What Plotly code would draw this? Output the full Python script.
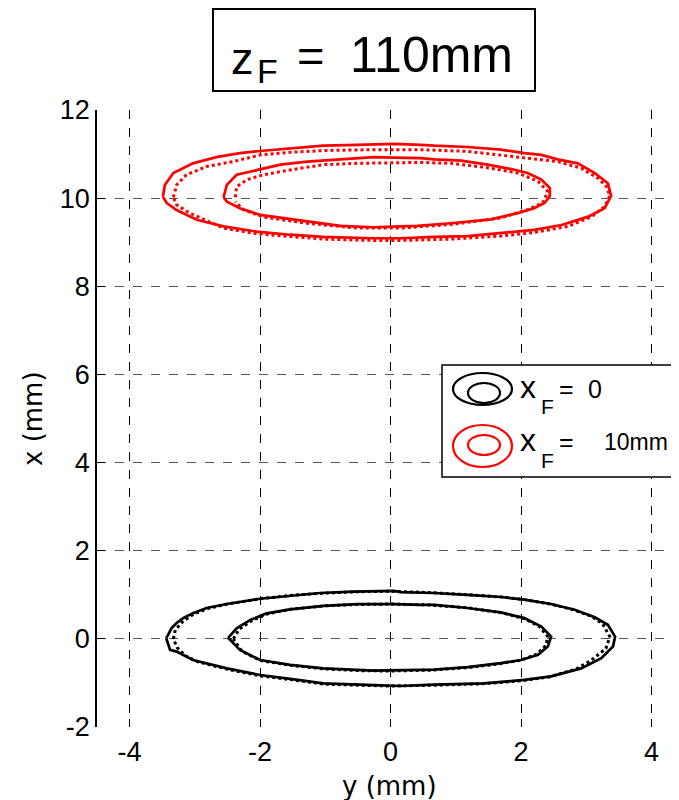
import plotly.graph_objects as go

# ---- data: contour outlines (y in mm, x in mm) ----
blk_outer_solid_y = [-3.44, -3.41, -3.36, -3.28, -3.18, -3.03, -2.82, -2.51, -2.00, -1.54, -1.08, -0.57, 0.05, 0.15, 0.67, 1.18, 1.69, 2.05, 2.46, 2.82, 3.13, 3.33, 3.44, 3.41, 3.23, 2.92, 2.46, 2.05, 1.44, 0.67, 0.15, -0.26, -1.03, -1.54, -2.00, -2.51, -3.03, -3.28, -3.38, -3.44]
blk_outer_solid_x = [0.02, 0.09, 0.24, 0.36, 0.47, 0.58, 0.70, 0.79, 0.91, 0.98, 1.04, 1.07, 1.09, 1.06, 1.04, 1.00, 0.95, 0.89, 0.79, 0.66, 0.49, 0.32, 0.05, -0.17, -0.44, -0.67, -0.85, -0.93, -1.01, -1.04, -1.07, -1.05, -1.01, -0.91, -0.82, -0.67, -0.48, -0.29, -0.25, 0.02]

blk_outer_dot_y = [-3.33, -3.30, -3.18, -3.02, -2.80, -2.50, -2.00, -1.50, -1.00, -0.50, 0.00, 0.60, 1.20, 1.70, 2.05, 2.45, 2.80, 3.08, 3.25, 3.36, 3.30, 3.08, 2.85, 2.45, 2.00, 1.40, 0.70, 0.00, -0.50, -1.00, -1.50, -2.00, -2.50, -2.95, -3.15, -3.27, -3.33]
blk_outer_dot_x = [0.00, 0.20, 0.40, 0.56, 0.69, 0.79, 0.91, 0.99, 1.04, 1.07, 1.08, 1.05, 1.00, 0.95, 0.89, 0.79, 0.66, 0.51, 0.34, 0.05, -0.22, -0.48, -0.68, -0.86, -0.95, -1.02, -1.05, -1.07, -1.05, -1.03, -0.93, -0.84, -0.69, -0.52, -0.38, -0.20, 0.00]

blk_inner_solid_y = [-2.49, -2.36, -2.15, -1.90, -1.54, -1.03, -0.51, 0.05, 0.46, 0.67, 1.18, 1.69, 2.05, 2.31, 2.46, 2.41, 2.26, 2.00, 1.69, 1.18, 0.67, 0.15, -0.26, -1.03, -1.54, -2.00, -2.31, -2.46, -2.49]
blk_inner_solid_x = [0.02, 0.24, 0.43, 0.58, 0.67, 0.75, 0.79, 0.79, 0.77, 0.77, 0.70, 0.60, 0.47, 0.28, 0.05, -0.17, -0.36, -0.48, -0.55, -0.64, -0.70, -0.72, -0.72, -0.67, -0.59, -0.48, -0.25, -0.02, 0.02]

blk_inner_dot_y = [-2.41, -2.32, -2.12, -1.88, -1.54, -1.00, -0.50, 0.00, 0.60, 1.20, 1.70, 2.05, 2.28, 2.41, 2.38, 2.24, 2.00, 1.70, 1.20, 0.60, 0.00, -0.50, -1.03, -1.54, -2.00, -2.28, -2.41]
blk_inner_dot_x = [0.00, 0.22, 0.42, 0.57, 0.67, 0.75, 0.78, 0.79, 0.77, 0.70, 0.59, 0.46, 0.28, 0.05, -0.15, -0.35, -0.48, -0.56, -0.65, -0.71, -0.73, -0.72, -0.68, -0.60, -0.49, -0.28, 0.00]

red_outer_solid_y = [-3.49, -3.46, -3.33, -3.03, -2.67, -2.31, -2.00, -1.54, -1.03, -0.51, -0.20, 0.05, 0.46, 0.67, 1.18, 1.69, 2.05, 2.31, 2.56, 2.87, 3.13, 3.33, 3.38, 3.28, 3.03, 2.62, 2.20, 1.69, 1.18, 0.67, 0.15, -0.26, -1.03, -1.54, -2.05, -2.56, -2.97, -3.28, -3.43, -3.49]
red_outer_solid_x = [10.03, 10.30, 10.57, 10.79, 10.93, 11.02, 11.07, 11.13, 11.19, 11.21, 11.23, 11.23, 11.21, 11.19, 11.16, 11.10, 11.02, 10.98, 10.88, 10.79, 10.57, 10.34, 10.05, 9.77, 9.58, 9.39, 9.28, 9.21, 9.14, 9.12, 9.09, 9.09, 9.12, 9.17, 9.24, 9.36, 9.51, 9.73, 9.89, 10.03]

red_outer_dot_y = [-3.33, -3.28, -3.13, -2.82, -2.41, -2.00, -1.54, -1.03, -0.26, 0.46, 1.18, 1.95, 2.56, 2.92, 3.18, 3.31, 3.36, 3.28, 3.08, 2.72, 2.20, 1.69, 0.92, 0.15, -0.26, -1.03, -1.54, -2.05, -2.56, -3.08, -3.28, -3.33]
red_outer_dot_x = [10.02, 10.30, 10.53, 10.72, 10.83, 10.98, 11.04, 11.08, 11.10, 11.10, 11.06, 10.94, 10.83, 10.68, 10.45, 10.26, 10.05, 9.81, 9.58, 9.36, 9.22, 9.14, 9.07, 9.04, 9.04, 9.07, 9.13, 9.19, 9.32, 9.66, 9.85, 10.02]

red_inner_solid_y = [-2.56, -2.51, -2.36, -2.15, -2.00, -1.69, -1.28, -0.77, -0.26, 0.05, 0.46, 0.67, 1.08, 1.49, 1.85, 2.10, 2.31, 2.44, 2.44, 2.36, 2.20, 1.95, 1.54, 0.92, 0.41, 0.15, -0.26, -0.77, -1.28, -2.00, -2.31, -2.51, -2.56]
red_inner_solid_x = [10.02, 10.30, 10.53, 10.60, 10.64, 10.76, 10.83, 10.88, 10.93, 10.92, 10.91, 10.88, 10.85, 10.76, 10.66, 10.57, 10.42, 10.23, 10.05, 9.89, 9.77, 9.66, 9.52, 9.43, 9.37, 9.36, 9.34, 9.37, 9.47, 9.62, 9.77, 9.92, 10.02]

red_inner_dot_y = [-2.38, -2.36, -2.20, -1.95, -1.54, -1.03, -0.51, 0.46, 0.92, 1.44, 1.95, 2.26, 2.41, 2.33, 2.10, 1.69, 0.92, 0.15, -0.51, -1.28, -1.95, -2.26, -2.38]
red_inner_dot_x = [10.02, 10.26, 10.42, 10.53, 10.64, 10.76, 10.79, 10.81, 10.79, 10.70, 10.57, 10.38, 10.15, 9.89, 9.74, 9.55, 9.40, 9.32, 9.32, 9.43, 9.57, 9.74, 9.92]

x_ticks = [-4, -2, 0, 2, 4]
y_ticks = [-2, 0, 2, 4, 6, 8, 10, 12]
title_var, title_sub, title_eq, title_val = "z", "F", "=", "110mm"
legend_var, legend_sub = "x", "F"
legend_vals = ["0", "10mm"]
x_label = "y (mm)"
y_label = "x (mm)"

fig = go.Figure()

def add(yv, xv, color, dotted):
    fig.add_trace(go.Scatter(
        x=yv, y=xv, mode="lines", showlegend=False, hoverinfo="skip",
        line=dict(color=color, width=3 if dotted else 2.7, dash="dot" if dotted else "solid"),
    ))

add(blk_outer_dot_y, blk_outer_dot_x, "black", True)
add(blk_inner_dot_y, blk_inner_dot_x, "black", True)
add(blk_outer_solid_y, blk_outer_solid_x, "black", False)
add(blk_inner_solid_y, blk_inner_solid_x, "black", False)
add(red_outer_dot_y, red_outer_dot_x, "#ff0000", True)
add(red_inner_dot_y, red_inner_dot_x, "#ff0000", True)
add(red_outer_solid_y, red_outer_solid_x, "#ff0000", False)
add(red_inner_solid_y, red_inner_solid_x, "#ff0000", False)

OFF = 8  # page body margin
W, H = 679 - OFF, 800 - OFF
L, R, T, B = 97 - OFF, 0, 110 - OFF, 73
pw, ph = W - L - R, H - T - B

def px(xw):  # window pixel x -> paper
    return (xw - OFF - L) / pw

def py(yw):  # window pixel y -> paper
    return (H - B - (yw - OFF)) / ph

shapes = []
shapes.append(dict(type="rect", xref="paper", yref="paper", x0=px(213), x1=px(535), y0=py(91), y1=py(9),
                   line=dict(color="black", width=2), fillcolor="white", layer="above"))
shapes.append(dict(type="rect", xref="paper", yref="paper", x0=px(442), x1=px(677), y0=py(477), y1=py(365),
                   line=dict(color="black", width=1.5), fillcolor="white", layer="above"))
for (x0, y0, x1, y1, c) in [
    (453, 373, 512, 405, "black"), (468, 383, 500, 403, "black"),
    (453, 425, 512, 467, "#ff0000"), (468, 435, 500, 455, "#ff0000"),
]:
    shapes.append(dict(type="circle", xref="paper", yref="paper", x0=px(x0), x1=px(x1), y0=py(y1), y1=py(y0),
                       line=dict(color=c, width=2.2), layer="above"))

FONT = "Liberation Sans, Arial"

def txt(t, x, y, size, xanchor="left", family=FONT, angle=0):
    return dict(text=t, xref="paper", yref="paper", x=px(x), y=py(y), showarrow=False,
                xanchor=xanchor, yanchor="middle", textangle=angle,
                font=dict(family=family, size=size, color="black"))

annotations = [
    txt(title_var, 229, 59, 45),
    txt(title_sub, 255, 71, 34),
    txt(title_eq, 310, 56, 47, xanchor="center"),
    txt(title_val, 431, 55, 50, xanchor="center"),
    txt(legend_var, 518, 387, 32),
    txt(legend_sub, 539, 406, 21),
    txt("=", 566, 389, 25, xanchor="center"),
    txt(legend_vals[0], 595, 389, 25, xanchor="center"),
    txt(legend_var, 518, 440, 32),
    txt(legend_sub, 539, 460, 21),
    txt("=", 566, 442, 25, xanchor="center"),
    txt(legend_vals[1], 636, 442, 23, xanchor="center"),
    txt(x_label, 389, 786, 26, xanchor="center", family="DejaVu Sans"),
    txt(y_label, 33, 419, 26, xanchor="center", family="DejaVu Sans", angle=-90),
]

fig.update_layout(
    width=W, height=H, margin=dict(l=L, r=R, t=T, b=B, pad=0),
    paper_bgcolor="white", plot_bgcolor="white",
    shapes=shapes, annotations=annotations,
    xaxis=dict(range=[-4.5, 4.42], tickvals=x_ticks, ticktext=[str(v) for v in x_ticks],
               showgrid=True, gridcolor="black", gridwidth=1, griddash="dash", zeroline=False,
               showline=False, ticks="inside", ticklen=8, tickcolor="black", ticklabelstandoff=6,
               tickfont=dict(family=FONT, size=27, color="black")),
    yaxis=dict(range=[-2, 12], tickvals=y_ticks, ticktext=[str(v) for v in y_ticks],
               showgrid=True, gridcolor="#555555", gridwidth=1, griddash="dash", zeroline=False,
               showline=True, linecolor="black", linewidth=1.5, ticks="inside", ticklen=8, tickcolor="black",
               tickfont=dict(family=FONT, size=27, color="black")),
)

fig.write_html("out.html")
